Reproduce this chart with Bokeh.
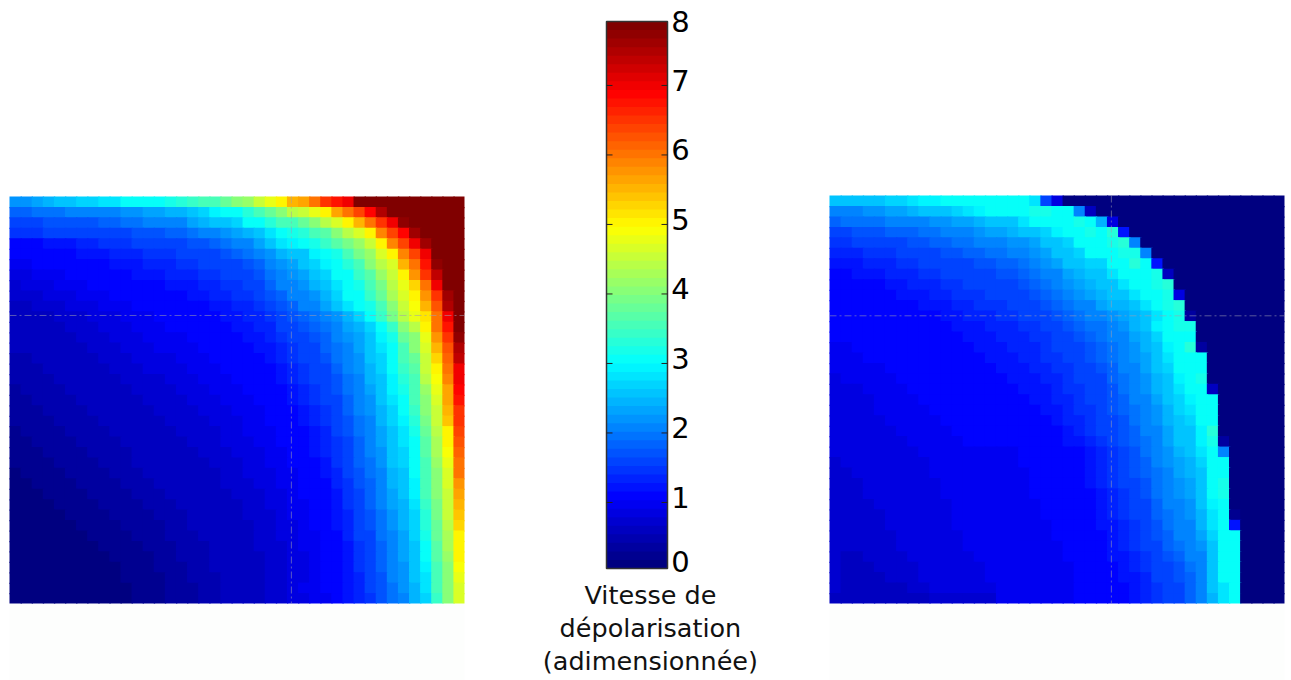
from bokeh.plotting import figure
from bokeh.layouts import row
from bokeh.models import ColumnDataSource, LinearColorMapper, Range1d
from bokeh.core.properties import value
from bokeh.transform import transform
from bokeh.embed import file_html
from bokeh.resources import INLINE

# Values are in tenths of the adimensional speed, top row first.
left_rows = [
 [22,22,23,24,25,25,27,27,28,28,30,30,31,31,32,33,34,35,36,38,40,42,45,48,50,55,57,60,65,68,71]+[80]*10,
 [18,18,19,19,19,20,20,20,21,21,22,22,23,23,24,24,26,27,29,30,31,33,35,38,41,44,46,48,50,57,60,64,69,75]+[80]*7,
 [16,16,16,17,17,17,17,17,18,18,19,19,20,20,21,21,23,24,25,26,27,30,31,33,35,36,38,40,44,47,51,55,60,65,70,78]+[80]*5,
 [14,14,14,15,15,15,15,15,16,16,16,17,17,17,18,18,19,20,21,22,23,24,26,28,30,32,33,35,37,40,44,47,50,59,64,69,77]+[80]*4,
 [11,11,11,12,12,12,13,13,14,14,14,15,15,15,16,16,17,17,18,19,20,21,23,25,28,29,30,32,34,37,39,42,46,51,59,64,70,77]+[80]*3,
 [10,10,10,11,11,11,12,12,12,13,13,13,14,14,14,15,15,16,16,17,18,19,20,22,24,25,26,29,30,32,35,39,42,47,50,59,64,71,80,80,80],
 [9,9,10,10,10,11,11,11,11,12,12,12,13,13,13,14,14,15,15,16,16,17,18,20,22,23,25,27,29,30,33,36,40,44,47,55,60,68,78,80,80],
 [8,8,9,9,9,10,10,10,11,11,11,12,12,12,13,13,13,14,14,15,15,16,17,19,21,22,23,25,27,30,31,34,37,42,46,51,58,65,74,80,80],
 [7,8,8,8,9,9,9,10,10,10,11,11,11,11,12,12,12,13,13,14,14,15,16,18,20,21,22,24,26,28,30,32,35,39,44,48,53,61,70,80,80],
 [7,7,7,8,8,8,9,9,9,10,10,10,10,11,11,11,12,12,13,13,14,14,15,17,18,20,21,22,24,27,30,31,34,38,43,47,50,58,66,77,80],
 [6,6,7,7,7,8,8,8,9,9,9,10,10,10,10,11,11,11,12,12,13,13,14,15,17,18,20,21,23,25,28,30,32,36,40,45,49,55,63,75,79],
 [5,6,6,6,7,7,7,8,8,8,9,9,9,10,10,10,10,11,11,12,12,13,13,14,16,17,18,19,20,22,24,27,30,34,39,44,48,52,60,71,79],
 [5,5,6,6,6,7,7,7,8,8,8,9,9,9,10,10,10,10,11,11,12,12,13,13,15,16,17,18,19,21,23,24,27,30,34,40,44,51,60,68,79],
 [5,5,5,6,6,6,7,7,7,8,8,8,9,9,9,9,10,10,10,11,11,12,12,13,14,15,16,17,18,20,22,23,26,29,32,38,41,48,58,66,78],
 [5,5,5,5,6,6,6,7,7,7,8,8,8,9,9,9,9,10,10,10,11,11,12,12,13,14,15,16,18,19,21,23,25,28,31,36,40,47,56,63,76],
 [4,4,5,5,5,6,6,6,7,7,7,8,8,8,8,9,9,9,10,10,10,11,11,12,13,14,15,16,17,19,20,22,25,27,30,35,38,46,53,62,74],
 [4,4,4,5,5,5,6,6,6,7,7,7,8,8,8,8,9,9,9,10,10,10,11,11,12,13,14,15,16,18,20,22,24,27,30,34,37,45,51,61,71],
 [4,4,4,4,5,5,5,6,6,6,7,7,7,7,8,8,8,9,9,9,10,10,10,11,12,13,14,15,16,17,19,21,24,26,29,33,36,44,49,59,70],
 [3,4,4,4,4,5,5,5,6,6,6,7,7,7,7,8,8,8,9,9,9,10,10,11,11,12,13,14,15,17,19,21,23,25,29,32,35,42,48,57,69],
 [3,3,4,4,4,4,5,5,5,6,6,6,7,7,7,7,8,8,8,9,9,9,10,10,11,12,13,14,15,16,18,20,22,25,28,31,35,41,47,57,68],
 [3,3,3,4,4,4,4,5,5,5,6,6,6,7,7,7,7,8,8,8,9,9,9,10,11,11,12,13,14,16,18,20,22,24,27,30,34,40,46,56,66],
 [3,3,3,3,4,4,4,4,5,5,5,6,6,6,7,7,7,7,8,8,8,9,9,10,10,11,12,13,14,15,17,19,21,24,27,29,33,39,45,54,65],
 [2,3,3,3,3,4,4,4,4,5,5,5,6,6,6,7,7,7,7,8,8,9,9,9,10,11,11,12,13,15,17,19,21,23,26,28,32,38,44,51,64],
 [2,2,3,3,3,3,4,4,4,4,5,5,5,6,6,6,7,7,7,8,8,8,9,9,10,10,11,12,13,14,16,18,20,23,26,28,31,37,43,50,63],
 [2,2,2,3,3,3,3,4,4,4,4,5,5,5,6,6,6,7,7,7,8,8,8,9,9,10,11,12,13,14,16,18,20,22,25,27,30,37,43,49,62],
 [2,2,2,2,3,3,3,3,4,4,4,5,5,5,5,6,6,6,7,7,7,8,8,9,9,10,10,11,12,14,15,18,19,22,25,27,30,36,42,48,61],
 [1,2,2,2,2,3,3,3,3,4,4,4,5,5,5,5,6,6,6,7,7,8,8,8,9,9,10,11,12,13,15,17,19,21,24,26,30,36,41,47,60],
 [1,1,2,2,2,2,3,3,3,3,4,4,4,5,5,5,5,6,6,7,7,7,8,8,9,9,10,11,11,13,14,17,18,21,24,25,29,35,40,47,58],
 [1,1,1,2,2,2,2,3,3,3,3,4,4,4,5,5,5,6,6,6,7,7,7,8,8,9,10,10,11,12,14,16,18,20,23,25,29,35,40,46,57],
 [1,1,1,1,2,2,2,2,3,3,3,3,4,4,4,5,5,5,6,6,6,7,7,8,8,9,9,10,11,12,14,16,18,20,23,24,28,34,39,45,55],
 [1,1,1,1,1,2,2,2,2,3,3,3,3,4,4,4,5,5,5,6,6,7,7,7,8,9,9,10,11,12,13,15,17,19,22,24,27,33,39,45,54],
 [1,1,1,1,1,1,2,2,2,2,3,3,3,3,4,4,5,5,5,6,6,6,7,7,8,8,9,10,10,12,13,15,17,19,22,24,27,33,38,44,53],
 [1,1,1,1,1,1,1,2,2,2,2,3,3,3,4,4,4,5,5,5,6,6,7,7,8,8,9,9,10,11,13,15,16,19,21,23,27,32,38,43,51],
 [1,1,1,1,1,1,1,1,2,2,2,2,3,3,3,4,4,4,5,5,6,6,7,7,7,8,9,9,10,11,12,14,16,18,21,23,26,31,37,43,50],
 [1,1,1,1,1,1,1,1,1,2,2,2,2,3,3,4,4,4,5,5,5,6,6,7,7,8,8,9,10,11,12,14,16,18,21,23,26,30,37,42,50],
 [1,1,1,1,1,1,1,1,1,1,2,2,2,3,3,3,4,4,5,5,5,6,6,7,7,8,8,9,10,11,12,14,15,18,20,22,25,29,36,41,49],
 [1,1,1,1,1,1,1,1,1,1,2,2,2,2,3,3,4,4,4,5,5,6,6,7,7,8,8,9,10,10,12,13,15,17,20,22,25,28,36,40,48],
 [1,1,1,1,1,1,1,1,1,1,1,2,2,2,3,3,3,4,4,5,5,6,6,7,7,8,9,9,10,10,12,13,15,17,19,22,24,28,35,40,47],
 [1,1,1,1,1,1,1,1,1,1,1,2,2,2,3,3,3,4,4,5,5,6,6,7,7,8,8,9,9,10,12,13,14,17,19,21,24,27,34,40,47],
]

right_rows = [
 [25,25,26,26,26,27,27,28,29,29,30,30,30,30,31,31,30,30,28,16,8]+[0]*20,
 [20,21,21,22,22,23,23,24,25,25,26,27,28,29,30,30,31,31,32,32,31,30,20,6]+[0]*17,
 [18,19,19,19,19,20,20,21,21,22,22,23,23,24,25,25,26,28,30,30,30,31,32,30,24,8]+[0]*15,
 [16,16,17,17,17,18,18,18,19,19,20,21,21,22,23,23,24,25,26,27,29,30,30,32,31,33,12]+[0]*14,
 [14,14,15,15,15,16,16,17,17,18,18,19,19,20,20,21,22,22,23,25,26,27,30,30,31,32,33,21]+[0]*13,
 [13,13,13,14,14,14,15,15,16,16,17,17,18,18,19,19,20,21,22,23,25,26,27,30,30,30,32,32,21]+[0]*12,
 [12,12,12,13,13,13,14,14,15,15,15,16,16,17,17,18,18,19,20,22,23,25,26,27,27,30,31,33,31,12]+[0]*11,
 [11,11,12,12,12,13,13,13,14,14,15,15,15,16,16,17,17,18,19,20,21,23,24,25,26,28,30,31,31,32,6]+[0]*10,
 [11,11,11,11,11,12,12,13,13,13,14,14,15,15,15,16,16,17,18,19,20,22,23,24,25,26,28,30,31,32,33]+[0]*10,
 [10,10,11,11,11,11,12,12,12,13,13,14,14,14,15,15,16,16,17,18,19,20,22,23,24,25,25,28,30,31,32,8]+[0]*9,
 [10,10,10,10,10,10,11,11,12,12,12,13,13,14,14,14,15,15,16,17,18,19,20,21,23,24,24,25,28,30,32,33]+[0]*9,
 [10,10,10,10,10,10,10,11,11,11,12,12,13,13,13,14,14,15,15,16,17,18,19,20,21,22,23,24,26,28,30,32,3]+[0]*8,
 [10,10,10,10,10,10,10,10,11,11,11,12,12,12,13,13,13,14,14,15,16,17,18,19,19,20,22,24,26,29,30,32,32]+[0]*8,
 [10,10,10,10,10,10,10,10,10,11,11,11,12,12,12,13,13,13,14,14,15,16,17,18,19,20,21,23,24,27,30,31,31]+[0]*8,
 [9,9,10,10,10,10,10,10,10,10,11,11,11,12,12,12,13,13,13,14,15,15,16,17,18,19,21,22,24,26,29,30,33,3]+[0]*7,
 [9,9,9,10,10,10,10,10,10,10,10,11,11,11,12,12,12,13,13,14,14,15,16,17,18,19,20,22,23,25,28,30,31,30]+[0]*7,
 [9,9,9,9,9,10,10,10,10,10,10,10,11,11,11,12,12,12,13,13,14,14,15,16,17,18,20,21,23,25,27,30,30,30]+[0]*7,
 [8,9,9,9,9,9,10,10,10,10,10,10,10,11,11,11,12,12,12,13,13,14,15,15,16,18,19,21,22,24,26,29,30,32]+[0]*7,
 [8,8,8,9,9,9,9,10,10,10,10,10,10,10,11,11,11,12,12,12,13,14,14,15,16,17,19,20,22,24,26,28,30,30,5]+[0]*6,
 [8,8,8,8,9,9,9,9,10,10,10,10,10,10,10,11,11,11,12,12,13,13,14,15,16,17,18,20,21,23,25,27,29,30,30]+[0]*6,
 [8,8,8,8,9,9,9,9,9,10,10,10,10,10,10,10,11,11,11,12,12,13,14,14,15,17,18,19,21,22,24,27,28,30,30]+[0]*6,
 [8,8,8,8,8,9,9,9,9,9,10,10,10,10,10,10,10,11,11,11,12,13,13,14,15,16,17,19,20,22,24,26,27,30,31]+[0]*6,
 [8,8,8,8,8,8,9,9,9,9,9,10,10,10,10,10,10,10,11,11,11,12,13,14,15,16,17,18,20,21,23,25,26,29,33]+[0]*6,
 [8,8,8,8,8,8,8,9,9,9,9,9,10,10,10,10,10,10,10,11,11,12,12,13,14,15,17,18,19,21,23,25,25,29,32,3]+[0]*5,
 [8,8,8,8,8,8,8,8,9,9,9,9,9,9,9,9,9,10,10,10,10,10,11,12,13,14,16,17,19,20,22,24,25,28,31,20]+[0]*5,
 [7,8,8,8,8,8,8,8,8,9,9,9,9,9,9,9,9,10,10,10,10,10,11,12,13,14,16,17,18,20,22,23,24,27,30,31]+[0]*5,
 [7,7,8,8,8,8,8,8,8,9,9,9,9,9,9,9,9,9,10,10,10,10,11,12,13,14,15,17,18,19,21,23,24,26,30,31]+[0]*5,
 [7,7,7,8,8,8,8,8,8,8,9,9,9,9,9,9,9,9,10,10,10,10,11,12,13,14,15,16,17,19,21,22,23,26,30,32]+[0]*5,
 [7,7,7,8,8,8,8,8,8,8,9,9,9,9,9,9,9,9,10,10,10,10,11,11,12,13,14,16,17,19,20,22,23,26,30,32]+[0]*5,
 [7,7,7,7,8,8,8,8,8,8,8,9,9,9,9,9,9,9,9,10,10,10,10,11,12,13,14,15,16,18,20,21,22,25,29,30]+[0]*5,
 [7,7,7,7,7,8,8,8,8,8,8,9,9,9,9,9,9,9,9,10,10,10,10,11,12,13,14,15,16,18,19,21,22,24,28,30,2]+[0]*4,
 [7,7,7,7,7,8,8,8,8,8,8,9,9,9,9,9,9,9,9,9,10,10,10,11,12,12,13,14,15,17,19,20,21,24,28,30,12]+[0]*4,
 [7,7,7,7,7,7,8,8,8,8,8,8,9,9,9,9,9,9,9,9,10,10,10,11,11,12,13,14,15,17,18,20,21,23,27,30,31]+[0]*4,
 [7,7,7,7,7,7,8,8,8,8,8,8,9,9,9,9,9,9,9,9,9,10,10,10,11,12,13,14,15,16,18,19,20,22,26,30,31]+[0]*4,
 [7,6,6,7,7,7,7,8,8,8,8,8,8,9,9,9,9,9,9,9,9,10,10,10,11,12,12,13,14,16,17,18,20,21,26,30,31]+[0]*4,
 [7,6,6,6,7,7,7,7,8,8,8,8,8,8,9,9,9,9,9,9,9,9,10,10,10,11,12,13,14,15,16,17,19,21,25,30,31]+[0]*4,
 [7,6,6,6,6,7,7,7,8,8,8,8,8,8,9,9,9,9,9,9,9,9,10,10,10,11,12,12,13,15,16,17,18,20,25,30,31]+[0]*4,
 [7,6,6,6,6,6,6,7,7,8,8,8,8,8,8,9,9,9,9,9,9,9,10,10,10,11,11,12,13,14,15,16,18,20,25,28,31]+[0]*4,
 [6,6,5,5,5,5,5,5,5,7,7,7,7,7,7,9,9,9,9,9,9,9,10,10,10,10,11,12,13,14,15,16,18,20,24,28,31]+[0]*4,
]

tick_values = [1, 2, 3, 4, 5, 6, 7]
tick_labels = ["0", "1", "2", "3", "4", "5", "6", "7", "8"]
bar_title = ["Vitesse de", "dépolarisation", "(adimensionnée)"]
bar_low, bar_high = 0.05, 7.92
left_cross = (25.4, 11.4)
right_cross = (25.4, 11.5)

FONT = value("DejaVu Sans")
PAGE_H = 680


def jet(n):
    def ramp(x):
        return max(0.0, min(1.0, 1.5 - abs(4 * x - 2)))
    out = []
    for i in range(n):
        t = i / (n - 1)
        r, g, b = ramp(t - 0.25), ramp(t), ramp(t + 0.25)
        out.append("#%02x%02x%02x" % (round(255 * r), round(255 * g), round(255 * b)))
    return out


palette = jet(64)
mapper = LinearColorMapper(palette=palette, low=0, high=8)


def heat_panel(rows, cross, width, x0, y0, x1, y1):
    """A panel whose cells span the pixels x0..x1, y0..y1 of a figure that fills the page height."""
    ncol, nrow = 41, len(rows)
    cw, ch = (x1 - x0) / ncol, (y1 - y0) / nrow
    left, right, top, bottom, vals = [], [], [], [], []
    for r, line in enumerate(rows):
        for c, v in enumerate(line):
            left.append(c)
            right.append(min(c + 1.12, ncol))   # slight overlap: no seams between SVG cells
            top.append(r)
            bottom.append(min(r + 1.12, nrow))
            vals.append(v / 10)
    src = ColumnDataSource(dict(l=left, r=right, t=top, b=bottom, v=vals))
    p = figure(width=width, height=PAGE_H, output_backend="svg", toolbar_location=None,
               x_range=Range1d(-x0 / cw, (width - x0) / cw),
               y_range=Range1d((PAGE_H - y0) / ch, -y0 / ch),
               x_axis_location=None, y_axis_location=None,
               min_border=0, min_border_left=0, min_border_right=0, min_border_top=0, min_border_bottom=0)
    p.grid.visible = False
    p.outline_line_color = None
    p.quad(left=0, right=ncol, top=nrow, bottom=(PAGE_H - y0) / ch, fill_color="#fdfefd", line_color=None)
    p.quad(left="l", right="r", top="t", bottom="b", source=src,
           fill_color=transform("v", mapper), line_color=None)
    for xs, ys in (([cross[0], cross[0]], [0, nrow]), ([0, ncol], [cross[1], cross[1]])):
        p.line(xs, ys, line_color="#a0a0b0", line_alpha=0.55, line_width=1, line_dash="7 3 2 3")
    return p


# ---- colour bar ----
BAR_W, BAR_X0, BAR_X1, BAR_Y0, BAR_Y1 = 260, 86, 147, 21, 568
xs_per_px = 1 / (BAR_X1 - BAR_X0)
ys_per_px = (bar_high - bar_low) / (BAR_Y1 - BAR_Y0)
levels = len(palette)
step = (bar_high - bar_low) / levels
bar = figure(width=BAR_W, height=PAGE_H, output_backend="svg", toolbar_location=None,
             x_range=Range1d(-BAR_X0 * xs_per_px, (BAR_W - BAR_X0) * xs_per_px),
             y_range=Range1d(bar_low - (PAGE_H - BAR_Y1) * ys_per_px, bar_high + BAR_Y0 * ys_per_px),
             x_axis_location=None, y_axis_location=None,
             min_border=0, min_border_left=0, min_border_right=0, min_border_top=0, min_border_bottom=0)
bar.grid.visible = False
bar.outline_line_color = None
bar.quad(left=0, right=1,
         bottom=[bar_low + i * step for i in range(levels)],
         top=[min(bar_low + (i + 1.15) * step, bar_high) for i in range(levels)],
         fill_color=palette, line_color=None)
bar.quad(left=0, right=1, bottom=bar_low, top=bar_high, fill_color=None,
         line_color="#333333", line_width=1.5)
tick_len = 6 * xs_per_px
bar.segment(x0=[0] * len(tick_values), x1=[tick_len] * len(tick_values), y0=tick_values, y1=tick_values,
            line_color="#222222", line_width=1)
bar.segment(x0=[1] * len(tick_values), x1=[1 - tick_len] * len(tick_values), y0=tick_values, y1=tick_values,
            line_color="#222222", line_width=1)

lab_y, lab_off = [], []
for t in tick_labels:
    v = float(t)
    if v == 8:
        lab_y.append(bar_high); lab_off.append(0)
    elif v == 0:
        lab_y.append(bar_low); lab_off.append(-7)
    else:
        lab_y.append(v); lab_off.append(-5)
bar.text(x=[1.06] * len(tick_labels), y=lab_y, text=tick_labels, y_offset=lab_off,
         text_font=FONT, text_font_size="29px", text_color="#000000",
         text_align="left", text_baseline="middle")
bar.text(x=[0.72] * len(bar_title), y=[bar_low] * len(bar_title), text=bar_title,
         y_offset=[26 + 33 * i for i in range(len(bar_title))],
         text_font=FONT, text_font_size="25.5px", text_color="#111111",
         text_align="center", text_baseline="middle")

left_panel = heat_panel(left_rows, left_cross, 520, 9, 196, 464, 603)
right_panel = heat_panel(right_rows, right_cross, 511, 49, 195, 504, 603)

page = row(left_panel, bar, right_panel)
open("out.html", "w").write(file_html(page, INLINE))
